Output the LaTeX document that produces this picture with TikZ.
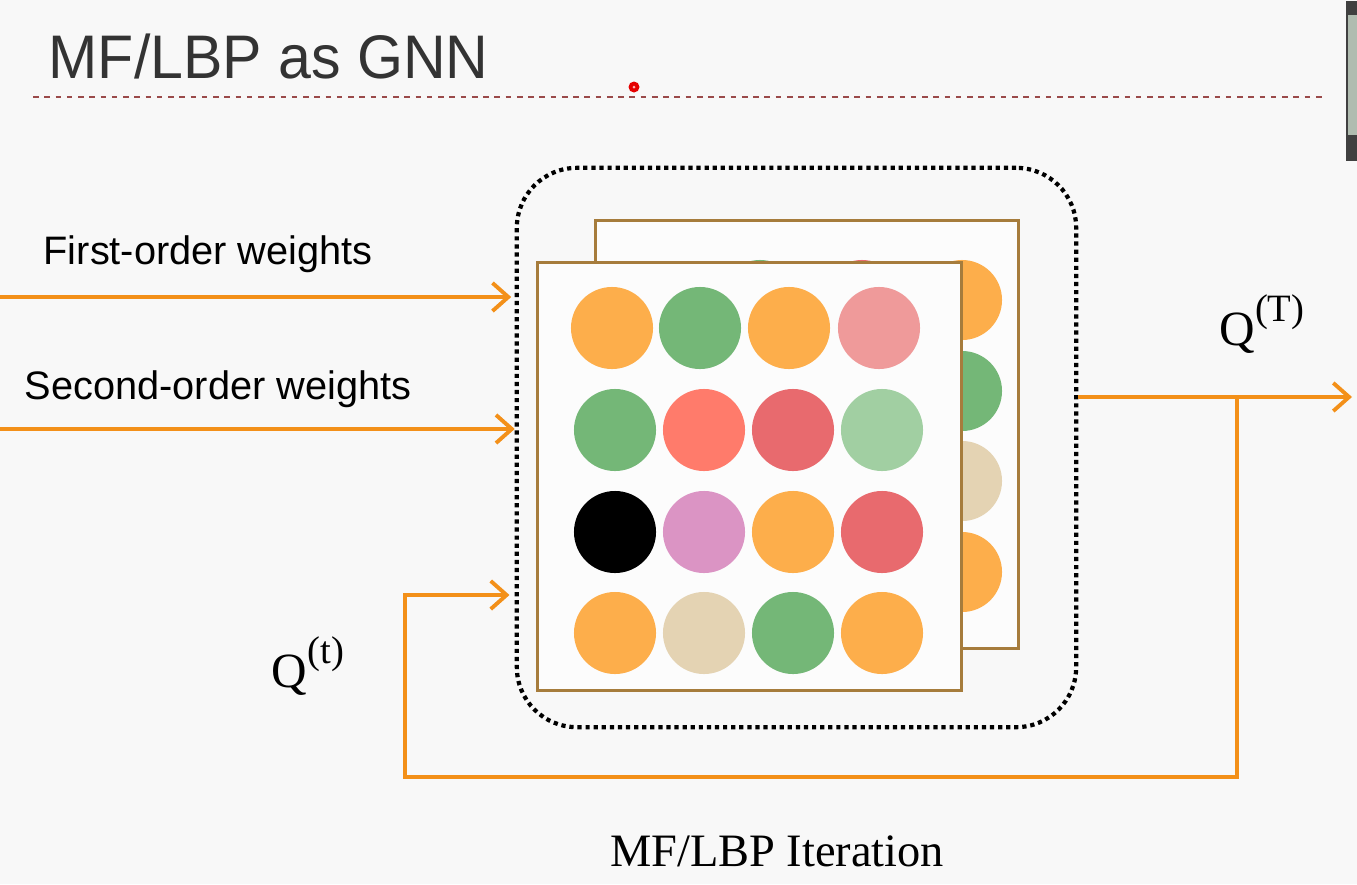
\documentclass[tikz,border=0pt]{standalone}
\usepackage{fontspec}
\setmainfont{Liberation Serif}
\newfontfamily\sansf{Liberation Sans}
\usetikzlibrary{arrows.meta}

\definecolor{bgc}{HTML}{F8F8F8}
\definecolor{flowc}{HTML}{F39019}
\definecolor{framec}{HTML}{A67C3C}
\definecolor{rulec}{HTML}{9A4A4A}
\definecolor{corange}{HTML}{FDAE4B}
\definecolor{cgreen}{HTML}{74B777}
\definecolor{cpink}{HTML}{EF9A9A}
\definecolor{csalmon}{HTML}{FF7B6B}
\definecolor{cred}{HTML}{E86A6E}
\definecolor{clgreen}{HTML}{A1CFA2}
\definecolor{corchid}{HTML}{DB94C4}
\definecolor{ctan}{HTML}{E4D3B3}

\newcommand{\qsup}[1]{Q\raisebox{0.5em}{\fontsize{11}{12}\selectfont(#1)}}

\tikzset{
  flow/.style={-{Straight Barb[length=4.5pt,width=8pt,line width=1.1pt]},draw=flowc,line width=1.1pt},
  layer/.style={draw=framec,line width=0.8pt,fill=white!60!bgc,minimum width=4.23cm,minimum height=4.27cm,inner sep=0pt},
  dot/.style={circle,fill=#1,minimum size=0.82cm,inner sep=0pt},
  bdot/.style={circle,fill=#1,minimum size=0.8cm,inner sep=0pt},
  itbox/.style={draw=black,line width=1.2pt,dash pattern=on 1.2pt off 1.1pt,rounded corners=0.6cm,minimum width=5.59cm,minimum height=5.59cm,inner sep=0pt},
  lbl/.style={font=\sansf\fontsize{11.3}{13}\selectfont,anchor=base west,inner sep=0pt},
  qlbl/.style={font=\fontsize{14}{16}\selectfont,inner sep=0pt}
}

\begin{document}
\begin{tikzpicture}[x=0.01cm,y=-0.01cm]
    \fill[bgc](0,0)rectangle(1357,884);
    \useasboundingbox(0,0)rectangle(1357,884);

    % title and rule
    \node[font=\sansf\fontsize{17.5}{20}\selectfont,text=black!80,anchor=base west,inner sep=0pt](title)at(48,78){\scalebox{0.96}[1]{MF/LBP as GNN}};
    \draw[rulec,line width=0.6pt,dash pattern=on 1.6pt off 1.6pt](33,97)--(1327,97);
    \node[circle,fill=red!90!black,minimum size=0.11cm,inner sep=0pt](laser)at(634,87){};
    \node[circle,fill=red!30,minimum size=0.03cm,inner sep=0pt]at(laser){};
    \node[fill=black!75,minimum width=0.12cm,minimum height=1.6cm,inner sep=0pt,anchor=north west](thumb)at(1345,0){};
    \fill[black!20!green!8!white!75!black](1348,15)rectangle(1357,135);

    % iteration block
    \node[itbox](iter)at(796.5,447.5){};
    \node[layer](back)at(807,434.5){};
    \foreach \x/\y/\c in {760/300/cgreen,862/300/cred,962/300/corange,962/391/cgreen,962/481/ctan,962/572/corange}
        \node[bdot=\c]at(\x,\y){};
    \node[layer](front)at(749.5,476.5){};
    \foreach \x/\c [count=\i] in {612/corange,700/cgreen,789/corange,879/cpink}
        \node[dot=\c](a\i)at(\x,328){};
    \foreach \x/\c [count=\i] in {615/cgreen,704/csalmon,793/cred,882/clgreen}
        \node[dot=\c](b\i)at(\x,430){};
    \foreach \x/\c [count=\i] in {615/black,704/corchid,793/corange,882/cred}
        \node[dot=\c](c\i)at(\x,532){};
    \foreach \x/\c [count=\i] in {615/corange,704/ctan,793/cgreen,882/corange}
        \node[dot=\c](d\i)at(\x,633){};

    % inputs
    \node[lbl](fo)at(43,264){First-order weights};
    \node[lbl](so)at(24,399){Second-order weights};
    \coordinate(foin)at(0,297);
    \coordinate(soin)at(0,429);
    \draw[flow](foin)--([xshift=-1pt]foin-|iter.west);
    \draw[flow](soin)--([xshift=0pt]soin-|iter.west);

    % output and feedback
    \coordinate(out)at(1352,397);
    \coordinate(split)at(1237,397);
    \coordinate(loopbl)at(405,777);
    \coordinate(qin)at(405,595);
    \draw[flow](iter.east|-out)--(out);
    \draw[flow](split)|-(loopbl)--(qin)--([xshift=-1.5pt]qin-|iter.west);
    \node[qlbl](qT)at(1262,324){\qsup{T}};
    \node[qlbl](qt)at(308,666){\qsup{t}};

    \node[font=\fontsize{13.2}{15}\selectfont,anchor=base,inner sep=0pt](cap)at(777,866){MF/LBP Iteration};
\end{tikzpicture}
\end{document}
